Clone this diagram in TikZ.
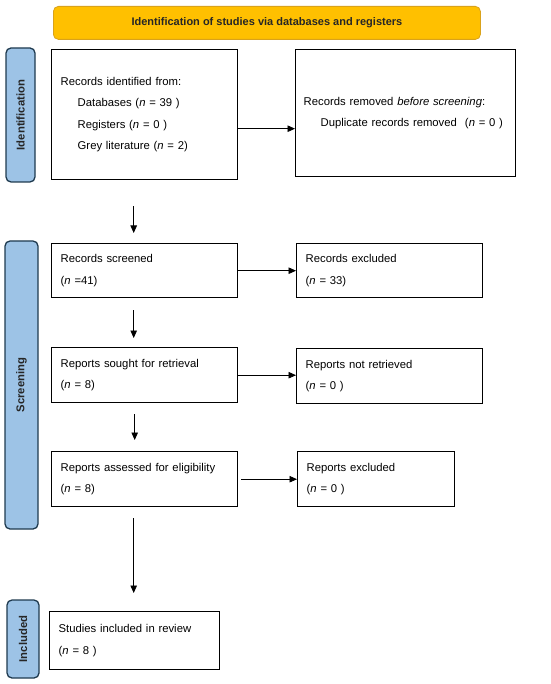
\documentclass[tikz,border=0pt]{standalone}
\usepackage{fontspec}
\setmainfont{Liberation Sans}
\usetikzlibrary{arrows.meta}
\definecolor{bannerfill}{HTML}{FFC000}
\definecolor{bannerdraw}{HTML}{D9A21B}
\definecolor{phasefill}{HTML}{9DC3E6}
\definecolor{phasedraw}{HTML}{1F3A4F}
\begin{document}
\begin{tikzpicture}[x=1pt,y=-1pt,
  box/.style={draw=black, line width=1.4pt, align=left, inner xsep=9pt, inner ysep=0pt,
    font=\fontsize{11.3}{21.5}\selectfont, anchor=north west},
  phase/.style={draw=phasedraw, fill=phasefill, line width=1.3pt, rounded corners=5pt,
    rotate=90, font=\fontsize{11.3}{13}\selectfont\bfseries, text=black!85, inner sep=0pt},
  banner/.style={draw=bannerdraw, fill=bannerfill, line width=0.8pt, rounded corners=5pt,
    font=\fontsize{11}{13}\selectfont\bfseries, text=black!85, inner sep=0pt, anchor=north west},
  arr/.style={draw=black, line width=0.7pt, -{Triangle[length=7.5pt,width=6.5pt]}}
]
\useasboundingbox (0,0) rectangle (550,684);

% banner
\node[banner, minimum width=427pt, minimum height=33pt] (ban) at (53,6) {Identification of studies via databases and registers};

% phase labels
\node[phase, minimum width=134pt, minimum height=29pt] (pid) at (20.5,115) {Identification};
\node[phase, minimum width=288pt, minimum height=33pt] (pscr) at (21.5,385) {Screening};
\node[phase, minimum width=78pt, minimum height=32pt] (pinc) at (23,639) {Included};

% boxes
\node[box, text width=168pt, minimum height=130pt] (id) at (51,49) {Records identified from:\\
\hspace*{17pt}Databases (\textit{n} = 39 )\\
\hspace*{17pt}Registers (\textit{n} = 0 )\\
\hspace*{17pt}Grey literature (\textit{n} = 2)};
\node[box, inner xsep=8pt, text width=204pt, minimum height=127pt] (rem) at (295,49) {Records removed \textit{before screening}:\\
\hspace*{17pt}Duplicate records removed\hspace*{8pt}(\textit{n} = 0 )};

\node[box, text width=168pt, minimum height=54pt] (scr) at (51,243) {Records screened\\(\textit{n} =41)};
\node[box, text width=168pt, minimum height=54pt] (exc) at (296,243) {Records excluded\\(\textit{n} = 33)};

\node[box, text width=168pt, minimum height=55pt] (sou) at (51,347) {Reports sought for retrieval\\(\textit{n} = 8)};
\node[box, text width=168pt, minimum height=55pt] (nre) at (296,348) {Reports not retrieved\\(\textit{n} = 0 )};

\node[box, text width=168pt, minimum height=55pt] (ass) at (51,451) {Reports assessed for eligibility\\(\textit{n} = 8)};
\node[box, text width=139pt, minimum height=55pt] (rex) at (297,451) {Reports excluded\\(\textit{n} = 0 )};

\node[box, text width=152pt, minimum height=58pt] (inc) at (49,611) {Studies included in review\\(\textit{n} = 8 )};

% horizontal arrows
\draw[arr] ([yshift=-14pt]id.east) -- ([yshift=-14pt]id.east -| rem.west);
\draw[arr] (scr.east) -- (scr.east -| exc.west);
\draw[arr] (sou.east) -- (sou.east -| nre.west);
\draw[arr] ([xshift=3pt]ass.east) -- (ass.east -| rex.west);

% vertical arrows
\draw[arr] ([xshift=-11pt,yshift=-26pt]id.south) -- ([xshift=-11pt,yshift=10pt]scr.north);
\draw[arr] ([xshift=-11pt,yshift=-12pt]scr.south) -- ([xshift=-11pt,yshift=9pt]sou.north);
\draw[arr] ([xshift=-10pt,yshift=-11pt]sou.south) -- ([xshift=-10pt,yshift=11pt]ass.north);
\draw[arr] ([xshift=-11pt,yshift=-11pt]ass.south) -- ([xshift=-11pt,yshift=18pt]ass.south |- inc.north);
\end{tikzpicture}
\end{document}
